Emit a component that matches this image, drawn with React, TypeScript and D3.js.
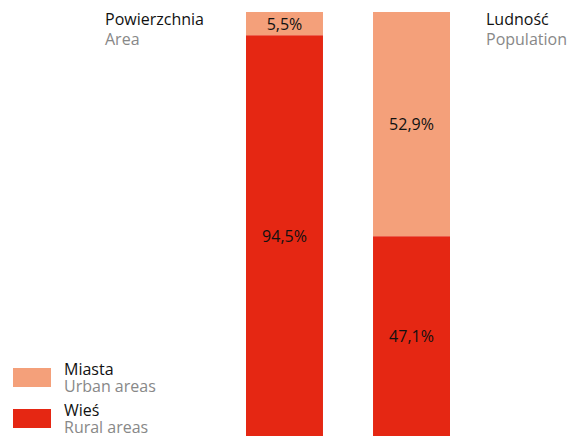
import React from "react";
import * as d3 from "d3";

const bars = ["Powierzchnia", "Ludność"];
const barsEn = ["Area", "Population"];
const urban = [5.5, 52.9];
const rural = [94.5, 47.1];
const urbanLabels = ["5,5%", "52,9%"];
const ruralLabels = ["94,5%", "47,1%"];
const legendPl = ["Miasta", "Wieś"];
const legendEn = ["Urban areas", "Rural areas"];

const COLORS = { urban: "#f4a07a", rural: "#e52713" };
const FONT = "'Open Sans', 'Noto Sans', sans-serif";

export default function App() {
  const W = 573, H = 436;
  const y = d3.scaleLinear().domain([0, 100]).range([H, 12]);
  const x = d3.scaleBand().domain(bars).range([246, 450]).paddingInner(0.394).paddingOuter(0);
  const bw = x.bandwidth();
  const fs = 16;

  return (
    <svg width={W} height={H} style={{ position: "absolute", left: 0, top: 0, background: "#fff" }} fontFamily={FONT}>
      {bars.map((b, i) => {
        const x0 = x(b)!;
        const cx = x0 + bw / 2;
        const rTop = y(rural[i]);
        const uTop = y(rural[i] + urban[i]);
        return (
          <g key={b}>
            <rect x={x0} y={uTop} width={bw} height={rTop - uTop} fill={COLORS.urban} />
            <rect x={x0} y={rTop} width={bw} height={y(0) - rTop} fill={COLORS.rural} />
            <text x={cx} y={(uTop + rTop) / 2} textAnchor="middle" dominantBaseline="central" fontSize={fs} fill="#111">{urbanLabels[i]}</text>
            <text x={cx} y={(rTop + y(0)) / 2} textAnchor="middle" dominantBaseline="central" fontSize={fs} fill="#111">{ruralLabels[i]}</text>
          </g>
        );
      })}
      <text x={105} y={25} fontSize={fs} fill="#111">{bars[0]}</text>
      <text x={105} y={45} fontSize={fs} fill="#888">{barsEn[0]}</text>
      <text x={486} y={25} fontSize={fs} fill="#111">{bars[1]}</text>
      <text x={486} y={45} fontSize={fs} fill="#888">{barsEn[1]}</text>
      {legendPl.map((l, i) => (
        <g key={l} transform={`translate(0, ${i * 41})`}>
          <rect x={13} y={368} width={38} height={19} fill={i === 0 ? COLORS.urban : COLORS.rural} />
          <text x={64} y={375} fontSize={fs} fill="#111">{l}</text>
          <text x={64} y={392} fontSize={fs} fill="#888">{legendEn[i]}</text>
        </g>
      ))}
    </svg>
  );
}
